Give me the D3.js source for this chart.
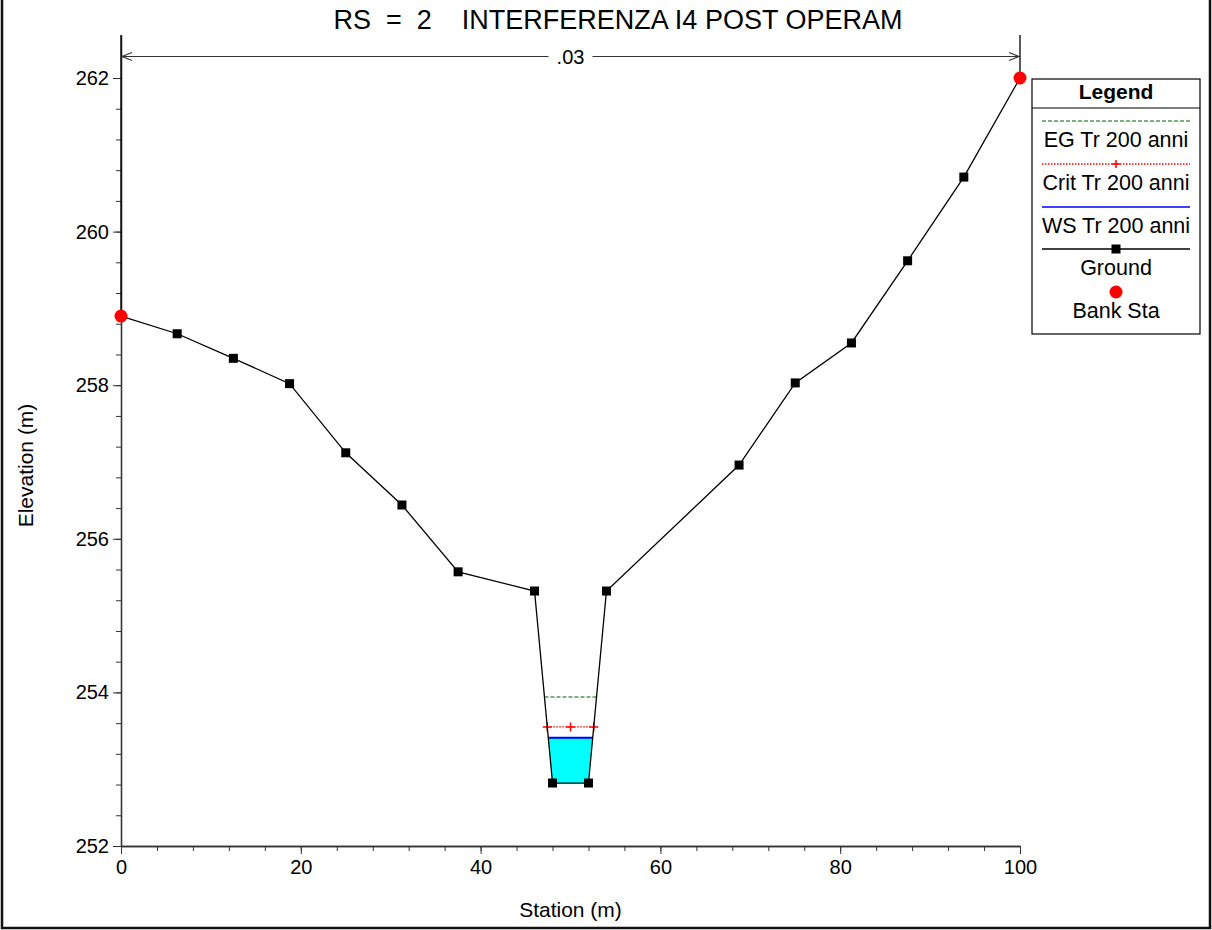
<!DOCTYPE html>
<html>
<head>
<meta charset="utf-8">
<script src="https://cdn.jsdelivr.net/npm/d3@7"></script>
<style>
  body { margin: 0; background: #fff; }
  svg { display: block; font-family: "Liberation Sans", Arial, sans-serif; }
  .axis text { font-size: 20px; fill: #000; }
  .axis line, .axis path { stroke: #333; }
</style>
</head>
<body>
<svg id="chart"></svg>
<script>
// cross section data (RS = 2)
const stations   = [0, 6.25, 12.5, 18.75, 25, 31.25, 37.5, 46, 48, 52, 54, 68.75, 75, 81.25, 87.5, 93.75, 100];
const elevations = [258.90, 258.67, 258.35, 258.02, 257.12, 256.44, 255.57, 255.32, 252.82, 252.82, 255.32, 256.96, 258.03, 258.55, 259.62, 260.71, 262.00];
const bankStations = [0, 100];
const manningN = [".03"];

// water profile levels, Tr 200 anni
const egElev = 253.94;
const critElev = 253.55;
const wsElev = 253.41;

const xTicks = [0, 20, 40, 60, 80, 100];
const yTicks = [252, 254, 256, 258, 260, 262];

const legendItems = ["EG Tr 200 anni", "Crit Tr 200 anni", "WS Tr 200 anni", "Ground", "Bank Sta"];
const titleText = "RS  =  2    INTERFERENZA I4 POST OPERAM";

const width = 1212, height = 930;
const margin = { top: 35, left: 121, right: 192, bottom: 84 };
const yTop = 262.56;   // axis runs a bit above the top bank

const svg = d3.select('#chart')
    .attr('width', width)
    .attr('height', height);

// frame
svg.append('path')
    .attr('d', `M2,0V928H1210V0`)
    .attr('fill', 'none')
    .attr('stroke', '#111')
    .attr('stroke-width', 2.5);

const xScale = d3.scaleLinear()
    .domain([0, 100])
    .range([margin.left, width - margin.right]);

const yScale = d3.scaleLinear()
    .domain([252, yTop])
    .range([height - margin.bottom, margin.top]);

// axes: major + minor ticks
svg.append('g')
    .attr('class', 'axis x-axis')
    .attr('transform', `translate(0,${yScale(252)})`)
    .call(d3.axisBottom(xScale).tickValues(d3.range(0, 100.1, 4)).tickSize(5).tickSizeOuter(0).tickFormat(''));
svg.append('g')
    .attr('class', 'axis x-axis')
    .attr('transform', `translate(0,${yScale(252)})`)
    .call(d3.axisBottom(xScale).tickValues(xTicks).tickSize(8).tickSizeOuter(0).tickPadding(6).tickFormat(d3.format('d')));

svg.append('g')
    .attr('class', 'axis y-axis')
    .attr('transform', `translate(${xScale(0)},0)`)
    .call(d3.axisLeft(yScale).tickValues(d3.range(252, 262.01, 0.4)).tickSize(5).tickSizeOuter(0).tickFormat(''));
svg.append('g')
    .attr('class', 'axis y-axis')
    .attr('transform', `translate(${xScale(0)},0)`)
    .call(d3.axisLeft(yScale).tickValues(yTicks).tickSize(8).tickSizeOuter(0).tickPadding(4).tickFormat(d3.format('d')));

svg.selectAll('.axis .domain').attr('stroke', '#000').attr('stroke-width', 1.3);

// axis titles
svg.append('text')
    .attr('x', (xScale(0) + xScale(100)) / 2)
    .attr('y', 917)
    .attr('text-anchor', 'middle')
    .style('font-size', '21px')
    .text('Station (m)');

svg.append('text')
    .attr('transform', `translate(33,${(yScale(252) + yScale(yTop)) / 2 + 25}) rotate(-90)`)
    .attr('text-anchor', 'middle')
    .style('font-size', '21px')
    .text('Elevation (m)');

// title
svg.append('text')
    .attr('x', 618)
    .attr('y', 29)
    .attr('text-anchor', 'middle')
    .style('font-size', '27px')
    .style('white-space', 'pre')
    .text(titleText);

// helpers to find where a water level meets the ground
function crossX(a, b, level) {
    const t = (level - elevations[a]) / (elevations[b] - elevations[a]);
    return stations[a] + t * (stations[b] - stations[a]);
}
function wetSection(level) {
    const iMin = d3.minIndex(elevations);
    let i = iMin, j = iMin;
    while (i > 0 && elevations[i - 1] < level) i--;
    while (j < elevations.length - 1 && elevations[j + 1] < level) j++;
    return { xl: crossX(i - 1, i, level), xr: crossX(j, j + 1, level), i: i, j: j };
}

// water fill
const ws = wetSection(wsElev);
const wetPts = [[ws.xl, wsElev]];
for (let k = ws.i; k <= ws.j; k++) wetPts.push([stations[k], elevations[k]]);
wetPts.push([ws.xr, wsElev]);

const line = d3.line()
    .x(d => xScale(d[0]))
    .y(d => yScale(d[1]));

svg.append('path')
    .datum(wetPts)
    .attr('d', d => line(d) + 'Z')
    .attr('fill', '#00ffff');

// WS line
svg.append('path')
    .datum([[ws.xl, wsElev], [ws.xr, wsElev]])
    .attr('d', line)
    .attr('stroke', '#0000ff')
    .attr('stroke-width', 2)
    .attr('fill', 'none');

// Crit line with + markers
const cr = wetSection(critElev);
const critPts = [[cr.xl, critElev], [(cr.xl + cr.xr) / 2, critElev], [cr.xr, critElev]];
svg.append('path')
    .datum([critPts[0], critPts[2]])
    .attr('d', line)
    .attr('stroke', '#ff0000')
    .attr('stroke-width', 1.3)
    .attr('stroke-dasharray', '1.5,1.5')
    .attr('fill', 'none');
svg.append('g').selectAll('path')
    .data(critPts)
    .join('path')
    .attr('d', d => `M${xScale(d[0]) - 4.5},${yScale(d[1])}h9M${xScale(d[0])},${yScale(d[1]) - 4.5}v9`)
    .attr('stroke', '#ff0000')
    .attr('stroke-width', 1.5);

// EG line
const eg = wetSection(egElev);
svg.append('path')
    .datum([[eg.xl, egElev], [eg.xr, egElev]])
    .attr('d', line)
    .attr('stroke', '#006400')
    .attr('stroke-width', 1.2)
    .attr('stroke-dasharray', '4,2')
    .attr('fill', 'none');

// bank station verticals up to the top of the plot
svg.append('g').selectAll('line')
    .data(bankStations)
    .join('line')
    .attr('x1', d => xScale(d)).attr('x2', d => xScale(d))
    .attr('y1', d => yScale(elevations[stations.indexOf(d)]))
    .attr('y2', yScale(yTop))
    .attr('stroke', '#000')
    .attr('stroke-width', 1.3);

// Manning's n dimension line
const nY = yScale(262.28);
const dim = svg.append('g').attr('stroke', '#333').attr('stroke-width', 1.2).attr('fill', 'none');
dim.append('line')
    .attr('x1', xScale(bankStations[0])).attr('x2', xScale(bankStations[1]))
    .attr('y1', nY).attr('y2', nY);
dim.append('path')
    .attr('d', `M${xScale(bankStations[0]) + 11},${nY - 4}L${xScale(bankStations[0]) + 1},${nY}L${xScale(bankStations[0]) + 11},${nY + 4}`);
dim.append('path')
    .attr('d', `M${xScale(bankStations[1]) - 11},${nY - 4}L${xScale(bankStations[1]) - 1},${nY}L${xScale(bankStations[1]) - 11},${nY + 4}`);
const nMid = (xScale(bankStations[0]) + xScale(bankStations[1])) / 2;
svg.append('rect')
    .attr('x', nMid - 22).attr('y', nY - 12)
    .attr('width', 44).attr('height', 24)
    .attr('fill', '#fff');
svg.append('text')
    .attr('x', nMid)
    .attr('y', nY + 7)
    .attr('text-anchor', 'middle')
    .style('font-size', '20px')
    .text(manningN[0]);

// ground line
const groundPts = stations.map((s, k) => [s, elevations[k]]);
svg.append('path')
    .datum(groundPts)
    .attr('d', line)
    .attr('stroke', '#000')
    .attr('stroke-width', 1.3)
    .attr('fill', 'none');

const groundMarks = groundPts.filter(d => !bankStations.includes(d[0]));
svg.append('g').selectAll('rect')
    .data(groundMarks)
    .join('rect')
    .attr('x', d => xScale(d[0]) - 4.5)
    .attr('y', d => yScale(d[1]) - 4.5)
    .attr('width', 9).attr('height', 9)
    .attr('fill', '#000');

svg.append('g').selectAll('circle')
    .data(bankStations)
    .join('circle')
    .attr('cx', d => xScale(d))
    .attr('cy', d => yScale(elevations[stations.indexOf(d)]))
    .attr('r', 6.5)
    .attr('fill', '#ff0000');

// legend
const lg = svg.append('g').attr('transform', 'translate(1032,79)');
lg.append('rect')
    .attr('width', 168).attr('height', 255)
    .attr('fill', '#fff')
    .attr('stroke', '#000')
    .attr('stroke-width', 1.2);
lg.append('line')
    .attr('x1', 0).attr('x2', 168).attr('y1', 29).attr('y2', 29)
    .attr('stroke', '#000').attr('stroke-width', 1.2);
lg.append('text')
    .attr('x', 84).attr('y', 20)
    .attr('text-anchor', 'middle')
    .style('font-size', '21px')
    .style('font-weight', 'bold')
    .text('Legend');

const rowY = [42, 85, 128, 170, 213];
lg.selectAll('.lg-label')
    .data(legendItems)
    .join('text')
    .attr('class', 'lg-label')
    .attr('x', 84)
    .attr('y', (d, i) => rowY[i] + 26)
    .attr('text-anchor', 'middle')
    .style('font-size', '21.5px')
    .text(d => d);

lg.append('line').attr('x1', 10).attr('x2', 158).attr('y1', rowY[0]).attr('y2', rowY[0])
    .attr('stroke', '#006400').attr('stroke-width', 1.2).attr('stroke-dasharray', '4,2');
lg.append('line').attr('x1', 10).attr('x2', 158).attr('y1', rowY[1]).attr('y2', rowY[1])
    .attr('stroke', '#ff0000').attr('stroke-width', 1.3).attr('stroke-dasharray', '1.5,1.5');
lg.append('path').attr('d', `M80,${rowY[1]}h8M84,${rowY[1] - 4}v8`)
    .attr('stroke', '#ff0000').attr('stroke-width', 1.5);
lg.append('line').attr('x1', 10).attr('x2', 158).attr('y1', rowY[2]).attr('y2', rowY[2])
    .attr('stroke', '#0000ff').attr('stroke-width', 1.5);
lg.append('line').attr('x1', 10).attr('x2', 158).attr('y1', rowY[3]).attr('y2', rowY[3])
    .attr('stroke', '#000').attr('stroke-width', 1.3);
lg.append('rect').attr('x', 79.5).attr('y', rowY[3] - 4.5).attr('width', 9).attr('height', 9)
    .attr('fill', '#000');
lg.append('circle').attr('cx', 84).attr('cy', rowY[4]).attr('r', 6.5)
    .attr('fill', '#ff0000');
</script>
</body>
</html>
